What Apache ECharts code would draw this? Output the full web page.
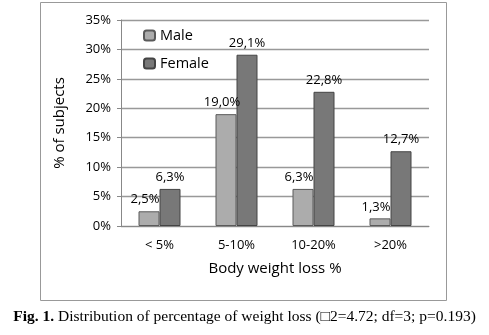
<!DOCTYPE html>
<html><head><meta charset="utf-8">
<script src="https://cdn.jsdelivr.net/npm/echarts@6/dist/echarts.min.js"></script>
<style>html,body{margin:0;padding:0;background:#fff}#c{width:489px;height:335px}</style>
</head><body><div id="c"></div>
<script>
const categories = ['< 5%', '5-10%', '10-20%', '>20%'];
const maleValues = [2.5, 19.0, 6.3, 1.3];
const femaleValues = [6.3, 29.1, 22.8, 12.7];
const seriesNames = ['Male', 'Female'];
const yAxisName = '% of subjects';
const xAxisName = 'Body weight loss %';

const font = 'Open Sans';
const chart = echarts.init(document.getElementById('c'));
const lbl = p => p.value.toFixed(1).replace('.', ',') + '%';
chart.setOption({
  animation: false,
  textStyle: { fontFamily: font },
  grid: { left: 121, right: 60, top: 20, bottom: 109 },
  legend: {
    orient: 'vertical', left: 138, top: 23, itemWidth: 11, itemHeight: 10, itemGap: 13,
    textStyle: { fontFamily: font, fontSize: 14.5, color: '#000' },
    data: seriesNames
  },
  xAxis: {
    type: 'category', data: categories,
    axisLine: { lineStyle: { color: '#888', width: 1 } },
    axisTick: { show: false },
    axisLabel: { color: '#000', fontSize: 13, margin: 13, fontFamily: font },
    name: xAxisName, nameLocation: 'middle', nameGap: 35,
    nameTextStyle: { color: '#000', fontSize: 15, fontFamily: font }
  },
  yAxis: {
    type: 'value', min: 0, max: 35, interval: 5,
    axisLine: { show: true, lineStyle: { color: '#888', width: 1 } },
    axisTick: { show: true, length: 4, lineStyle: { color: '#888' } },
    splitLine: { lineStyle: { color: '#999', width: 1.3 } },
    axisLabel: { color: '#000', fontSize: 13, margin: 10, formatter: '{value}%', fontFamily: font },
    name: yAxisName, nameLocation: 'middle', nameGap: 54,
    nameTextStyle: { color: '#000', fontSize: 15, fontFamily: font }
  },
  series: [
    { name: seriesNames[0], type: 'bar', data: maleValues, barWidth: 21, barGap: '0%',
      itemStyle: { color: '#acacac', borderColor: '#5a5a5a', borderWidth: 1 },
      label: { show: true, position: 'top', formatter: lbl, color: '#000', fontSize: 13, offset: [-4, 0], fontFamily: font } },
    { name: seriesNames[1], type: 'bar', data: femaleValues, barWidth: 21,
      itemStyle: { color: '#787878', borderColor: '#444', borderWidth: 1 },
      label: { show: true, position: 'top', formatter: lbl, color: '#000', fontSize: 13, fontFamily: font } }
  ],
  graphic: [
    { type: 'rect', shape: { x: 40.5, y: 2.5, width: 406, height: 298 }, style: { fill: 'none', stroke: '#999', lineWidth: 1 }, z: -1 },
    { type: 'text', left: 'center', top: 309,
      style: { text: '{b|Fig. 1.} Distribution of percentage of weight loss (\u25A12=4.72; df=3; p=0.193)',
        font: '15.5px "Liberation Serif"', fill: '#000',
        rich: { b: { fontWeight: 'bold', fontFamily: 'Liberation Serif', fontSize: 15.5 } } } }
  ]
});
</script></body></html>
